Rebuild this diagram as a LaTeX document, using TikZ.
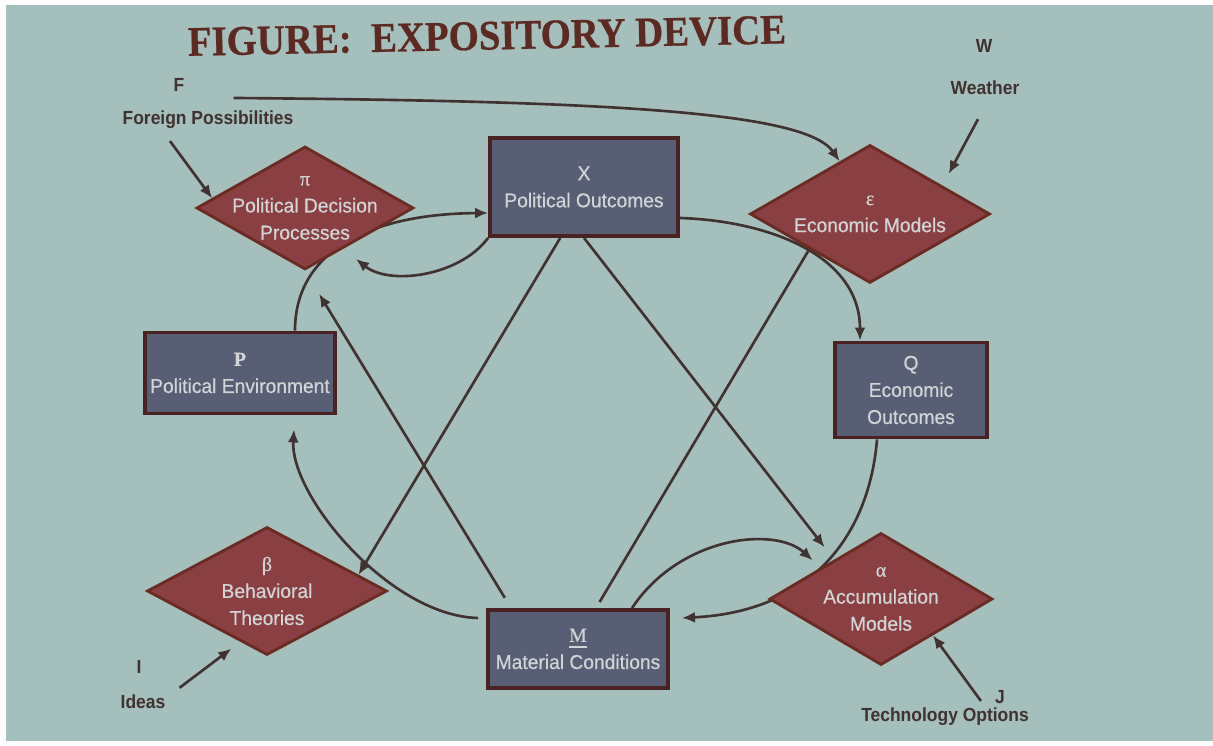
\documentclass[tikz,border=0pt]{standalone}
\usepackage{fontspec}
\setmainfont{Liberation Sans}
\newfontfamily\headfont[FakeStretch=0.92,FakeBold=0.6]{Liberation Serif}
\newfontfamily\tagfont[FakeStretch=0.92]{Liberation Sans}
\newfontfamily\boxfont[FakeStretch=0.96,FakeBold=0.5]{Liberation Sans}
\newfontfamily\symfont[FakeBold=0.5]{Liberation Serif}
\usetikzlibrary{shapes.geometric,arrows.meta}

\definecolor{slidebg}{HTML}{A5BFBC}
\definecolor{dmdfill}{HTML}{8A4042}
\definecolor{dmdedge}{HTML}{6A2B22}
\definecolor{boxfill}{HTML}{585F75}
\definecolor{boxedge}{HTML}{4A2224}
\definecolor{boxtext}{HTML}{D2D4D6}
\definecolor{ink}{HTML}{3F3230}
\definecolor{headred}{HTML}{5C2A22}

\pgfdeclarelayer{slide}
\pgfdeclarelayer{links}
\pgfsetlayers{slide,links,main}

\newcommand{\sym}[1]{{\symfont #1}}

\tikzset{
  box/.style={rectangle,draw=boxedge,line width=1.1pt,fill=boxfill,text=boxtext,
    align=center,inner sep=0pt,font=\boxfont\fontsize{5.7}{7.7}\selectfont},
  dmd/.style={diamond,draw=dmdedge,line width=0.8pt,fill=dmdfill,inner sep=0pt},
  dtext/.style={text=boxtext,align=center,inner sep=0pt,font=\boxfont\fontsize{5.7}{7.7}\selectfont},
  tag/.style={text=ink,inner sep=1pt,font=\tagfont\bfseries\fontsize{5.4}{6.5}\selectfont},
  link/.style={draw=ink,line width=0.75pt},
}

\begin{document}
\begin{tikzpicture}[>={Latex[length=1.3mm,width=1.1mm]}]
\useasboundingbox (0,0) rectangle (12.13,7.46);
\begin{pgfonlayer}{slide}
\fill[white] (0,0) rectangle (12.13,7.46);
\fill[slidebg] (0.06,0.05) rectangle (12.13,7.41);
\end{pgfonlayer}

\coordinate (Cpi) at (3.05,5.38);
\coordinate (Ceps) at (8.70,5.32);
\coordinate (Cbeta) at (2.67,1.55);
\coordinate (Calpha) at (8.81,1.47);
\coordinate (CX) at (5.84,5.59);
\coordinate (CP) at (2.40,3.73);
\coordinate (CQ) at (9.11,3.56);
\coordinate (CM) at (5.78,0.97);

% heading
\node[text=headred,rotate=1.2,font=\headfont\bfseries\fontsize{12}{14}\selectfont] (head) at (4.87,7.10) {FIGURE:\ \ EXPOSITORY DEVICE};

% outside influences
\node[tag] (F) at (1.79,6.61) {F};
\node[tag] (fp) at (2.08,6.26) {Foreign Possibilities};
\node[tag] (W) at (9.84,7.00) {W};
\node[tag] (wx) at (9.85,6.58) {Weather};
\node[tag] (I) at (1.39,0.79) {I};
\node[tag] (ideas) at (1.43,0.44) {Ideas};
\node[tag] (J) at (10.00,0.49) {J};
\node[tag] (tech) at (9.45,0.29) {Technology Options};

% models
\node[dmd,minimum width=2.17cm,minimum height=1.23cm,
  label={[dtext]center:{\sym{π}\\Political Decision\\Processes}}] (pi) at (Cpi) {};
\node[dmd,minimum width=2.40cm,minimum height=1.38cm,
  label={[dtext]center:{\sym{ε}\\Economic Models}}] (eps) at (Ceps) {};
\node[dmd,minimum width=2.40cm,minimum height=1.28cm,
  label={[dtext]center:{\sym{β}\\Behavioral\\Theories}}] (beta) at (Cbeta) {};
\node[dmd,minimum width=2.23cm,minimum height=1.32cm,
  label={[dtext]center:{\sym{α}\\Accumulation\\Models}}] (alpha) at (Calpha) {};

% states
\node[box,minimum width=1.88cm,minimum height=0.98cm] (X) at (CX) {X\\Political Outcomes};
\node[box,minimum width=1.90cm,minimum height=0.81cm] (P) at (CP) {\sym{\textbf{P}}\\Political Environment};
\node[box,minimum width=1.52cm,minimum height=0.95cm] (Q) at (CQ) {Q\\Economic\\Outcomes};
\node[box,minimum width=1.80cm,minimum height=0.78cm] (M) at (CM) {\sym{\underline{M}}\\Material Conditions};

\begin{pgfonlayer}{links}
% outer loop
\draw[link,->] ([shift={(0.45,-0.13)}]F.east) .. controls (6.0,6.45) and (8.05,6.35) .. (eps.120);
\draw[link,->] ([xshift=0.55cm]P.north) .. controls (2.95,4.95) and (3.7,5.32) .. ([yshift=-0.26cm]X.west);
\draw[link,->] (X.south west) .. controls (4.6,4.7) and (3.9,4.6) .. ([shift={(0.11,-0.11)}]pi.-45);
\draw[link,->] ([yshift=-0.31cm]X.east) .. controls (7.7,5.25) and (8.6,4.9) .. ([xshift=-0.51cm]Q.north);
\draw[link,->] ([xshift=-0.34cm]Q.south) .. controls (8.7,2.2) and (8.2,1.35) .. ([shift={(0.12,0.31)}]M.east);
\draw[link,->] ([xshift=0.54cm]M.north) .. controls (6.8,2.1) and (7.75,2.2) .. ([shift={(-0.12,0.05)}]alpha.north west);
\draw[link,->] ([shift={(-0.08,0.31)}]M.west) .. controls (3.9,1.3) and (2.9,2.5) .. ([shift={(0.54,-0.14)}]P.south);
% cross links
\draw[link,->,shorten <=0.12cm,shorten >=0.27cm] ([xshift=0.25cm]M.north west) -- (pi.south);
\draw[link,->] (X.-115) -- (beta.10);
\draw[link,->] (X.south) -- ([yshift=0.18cm]alpha.north west);
\draw[link,shorten >=0.07cm] (eps.south west) -- ([xshift=0.18cm]M.north);
% outside influences
\draw[link,->] ([shift={(-0.38,-0.08)}]fp.south) -- (pi.174);
\draw[link,->] ([shift={(-0.07,-0.2)}]wx.south) -- ([shift={(0.18,0.05)}]eps.north east);
\draw[link,->] ([shift={(0.1,0.03)}]ideas.north east) -- ([shift={(0.25,-0.25)}]beta.south west);
\draw[link,->] ([shift={(-0.1,-0.04)}]J.west) -- (alpha.-35);
\end{pgfonlayer}
\end{tikzpicture}
\end{document}
